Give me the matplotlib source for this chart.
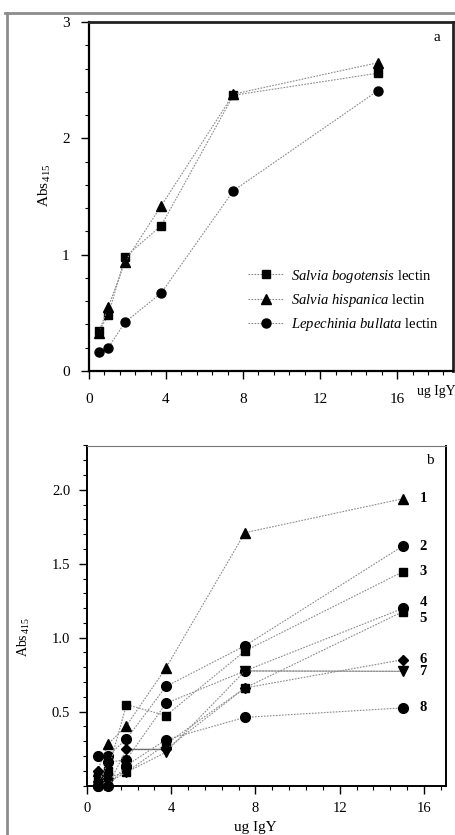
import matplotlib
matplotlib.use("Agg")
import matplotlib.pyplot as plt
from matplotlib.ticker import MultipleLocator
from matplotlib.lines import Line2D

plt.rcParams['font.family'] = ['Liberation Serif', 'DejaVu Serif']
plt.rcParams['mathtext.fontset'] = 'custom'
plt.rcParams['mathtext.rm'] = 'Liberation Serif'
plt.rcParams['mathtext.it'] = 'Liberation Serif:italic'

# ---------------- data ----------------
x_igy = [0.5, 1, 1.875, 3.75, 7.5, 15]

# panel a
a_labels = [r'$\mathit{Salvia\ bogotensis}$ lectin',
            r'$\mathit{Salvia\ hispanica}$ lectin',
            r'$\mathit{Lepechinia\ bullata}$ lectin']
a_bogotensis = [0.34, 0.48, 0.98, 1.25, 2.37, 2.56]
a_hispanica = [0.33, 0.55, 0.94, 1.42, 2.38, 2.65]
a_bullata = [0.16, 0.20, 0.42, 0.67, 1.55, 2.41]
a_markers = ['s', '^', 'o']

# panel b
b_names = ['1', '2', '3', '4', '5', '6', '7', '8']
b_s1 = [0.10, 0.28, 0.405, 0.795, 1.71, 1.94]
b_s2 = [0.20, 0.20, 0.315, 0.67, 0.945, 1.62]
b_s3 = [0.07, 0.10, 0.547, 0.473, 0.91, 1.446]
b_s4 = [0.00, 0.157, 0.175, 0.556, 0.775, 1.198]
b_s5 = [0.02, 0.056, 0.09, 0.28, 0.66, 1.176]
b_s6 = [0.10, 0.00, 0.245, 0.245, 0.66, 0.851]
b_s7 = [0.00, 0.02, 0.09, 0.225, 0.775, 0.772]
b_s8 = [0.00, 0.00, 0.135, 0.31, 0.461, 0.525]
b_markers = ['^', 'o', 's', 'o', 's', 'D', 'v', 'o']
b_label_dy = [0, 0, 0, 4, -5, 0, 0, 0]   # label nudges (points)

line_kw = dict(color='#8a8a8a', linewidth=0.8, linestyle=(0, (1.5, 1.2)))

fig = plt.figure(figsize=(4.55, 8.35), dpi=100)

# outer gray frame
fig.add_artist(Line2D([7/455, 7/455], [0, 1-13/835], transform=fig.transFigure,
                      color='#8c8c8c', linewidth=2))
fig.add_artist(Line2D([5/455, 1], [1-13/835, 1-13/835], transform=fig.transFigure,
                      color='#8c8c8c', linewidth=2))

# ---------------- panel a ----------------
axa = fig.add_axes([89/455, 1-371/835, (453-89)/455, (371-22)/835])
series_a = [a_bogotensis, a_hispanica, a_bullata]
for ys, m, lab in zip(series_a, a_markers, a_labels):
    axa.plot(x_igy, ys, marker=m, markersize=6.5 if m != 's' else 6,
             markerfacecolor='black', markeredgecolor='black', label=lab,
             **line_kw)
axa.set_xlim(0, 18.9)
axa.set_ylim(0, 3)
axa.set_xticks([0, 4, 8, 12, 16])
axa.xaxis.set_minor_locator(MultipleLocator(0.8))
axa.yaxis.set_major_locator(MultipleLocator(1))
axa.yaxis.set_minor_locator(MultipleLocator(0.2))
axa.tick_params(which='major', direction='out', length=6, width=1, labelsize=11, pad=10)
axa.tick_params(which='minor', direction='out', length=3, width=0.8)
axa.tick_params(axis='y', which='major', pad=8)
for s in ['left', 'bottom']:
    axa.spines[s].set_linewidth(1.6)
for s in ['top', 'right']:
    axa.spines[s].set_linewidth(2.0)
    axa.spines[s].set_color('#222222')
axa.text(0.965, 0.955, 'a', transform=axa.transAxes, fontsize=11, ha='right', va='center')
fig.text(417/455, 1-392/835, 'ug IgY', fontsize=10, ha='left', va='center')
fig.text(45/455, 1-185/835, r'Abs$_{\,415}$', fontsize=11, rotation=90, ha='center', va='center')

leg = axa.legend(loc='upper left', bbox_to_anchor=(0.42, 0.313), frameon=False,
                 fontsize=10.5, handlelength=2.5, handletextpad=0.45, labelspacing=0.5,
                 borderaxespad=0)

# ---------------- panel b ----------------
axb = fig.add_axes([87/455, 1-785.5/835, (446-87)/455, (785.5-445.5)/835])
series_b = [b_s1, b_s2, b_s3, b_s4, b_s5, b_s6, b_s7, b_s8]
for ys, m, name, dy in zip(series_b, b_markers, b_names, b_label_dy):
    ms = 6.5
    if m == 's':
        ms = 6
    elif m == 'D':
        ms = 5
    elif m == 'o':
        ms = 7
    axb.plot(x_igy, ys, marker=m, markersize=ms, markerfacecolor='black',
             markeredgecolor='black', clip_on=False, **line_kw)
    axb.annotate(name, xy=(x_igy[-1], ys[-1]), xytext=(12, dy), textcoords='offset points',
                 fontsize=10.5, fontweight='bold', ha='left', va='center')
# solid segments
axb.plot(x_igy[2:4], b_s6[2:4], color='#555555', linewidth=0.9, zorder=1)
axb.plot(x_igy[4:6], b_s7[4:6], color='#aaaaaa', linewidth=0.9, zorder=1)

axb.set_xlim(0, 17.05)
axb.set_ylim(0, 2.3)
axb.set_xticks([0, 4, 8, 12, 16])
axb.xaxis.set_minor_locator(MultipleLocator(0.8))
axb.set_yticks([0.5, 1.0, 1.5, 2.0])
axb.set_yticklabels(['0.5', '1.0', '1.5', '2.0'])
axb.yaxis.set_minor_locator(MultipleLocator(0.1))
axb.tick_params(which='major', direction='out', length=6, width=1, labelsize=10.5, pad=6)
axb.tick_params(which='minor', direction='out', length=3, width=0.8)
axb.tick_params(axis='y', which='major', pad=6)
for s in ['left', 'bottom', 'right']:
    axb.spines[s].set_linewidth(1.4)
axb.spines['top'].set_linewidth(0.8)
axb.spines['top'].set_color('#777777')
axb.text(0.965, 0.955, 'b', transform=axb.transAxes, fontsize=11, ha='right', va='center')
fig.text(255/455, 1-828/835, 'ug IgY', fontsize=11, ha='center', va='center')
fig.text(24/455, 1-637/835, r'Abs$_{\,415}$', fontsize=10, rotation=90, ha='center', va='center')

fig.savefig('out.png', dpi=100)
